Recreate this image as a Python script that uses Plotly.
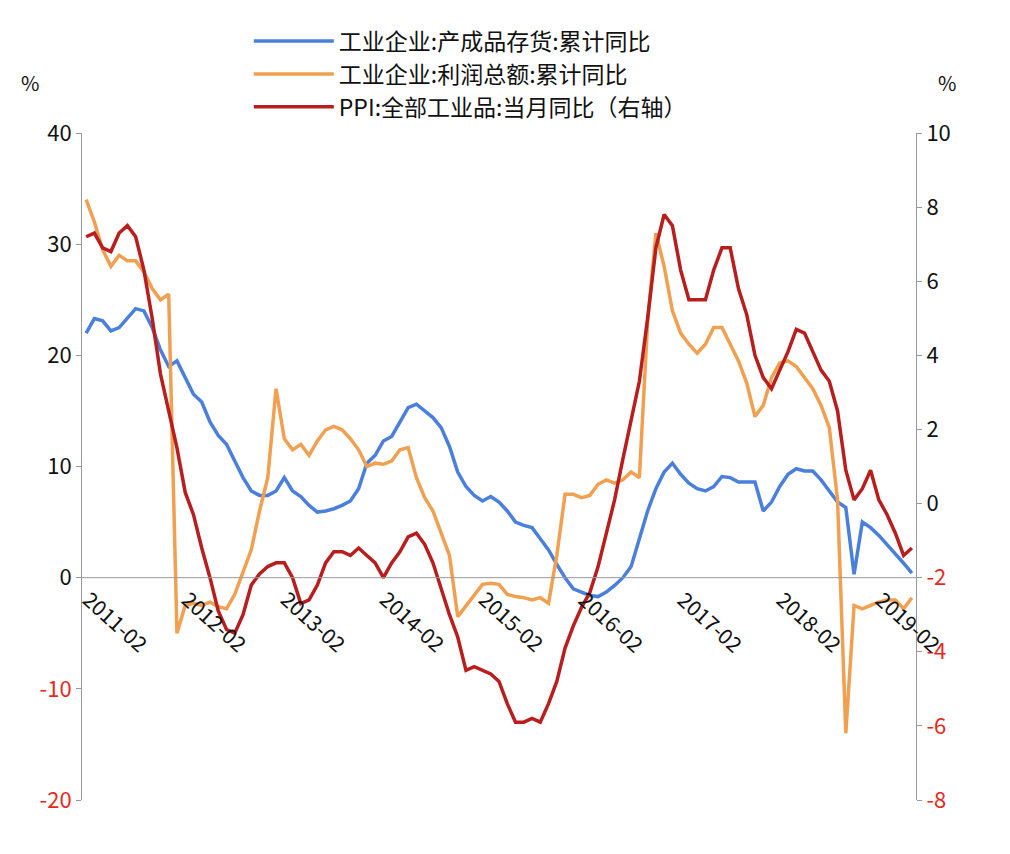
import plotly.graph_objects as go
import pandas as pd

# monthly, 2011-02 .. 2019-06
months = pd.date_range("2011-02-01", periods=101, freq="MS").strftime("%Y-%m").tolist()

inventory = [22, 23.3, 23.1, 22.2, 22.5, 23.3, 24.2, 24, 22.5, 20.5, 19,
             19.5, 18, 16.5, 15.8, 14, 12.8, 12, 10.5, 9, 7.8, 7.4, 7.4,
             7.8, 9, 7.8, 7.3, 6.5, 5.9, 6, 6.2, 6.5, 6.9, 8, 10.3,
             11, 12.3, 12.7, 14, 15.3, 15.6, 15, 14.4, 13.5, 11.8, 9.5, 8.2,
             7.4, 6.9, 7.3, 6.8, 6, 5, 4.7, 4.5, 3.5, 2.5, 1.2, 0,
             -1, -1.3, -1.6, -1.7, -1.3, -0.7, 0, 1, 3.5, 6, 8, 9.5,
             10.3, 9.3, 8.5, 8, 7.8, 8.2, 9.1, 9, 8.6, 8.6, 8.6, 6,
             6.8, 8.2, 9.3, 9.8, 9.6, 9.6, 8.8, 7.8, 6.8, 6.3, 0.3, 5,
             4.5, 3.8, 3, 2.2, 1.3, 0.4]

profit = [34, 32, 29.5, 28, 29, 28.5, 28.5, 27.5, 26, 25, 25.5,
          -5, -2.5, -2.3, -2.5, -2.2, -2.6, -2.8, -1.5, 0.5, 2.5, 6, 9,
          17, 12.5, 11.5, 12, 11, 12.3, 13.3, 13.6, 13.3, 12.5, 11.5, 10,
          10.3, 10.2, 10.5, 11.5, 11.7, 9, 7.2, 6, 4, 2, -3.5, -2.5,
          -1.5, -0.6, -0.5, -0.6, -1.5, -1.7, -1.8, -2, -1.8, -2.3, 2, 7.5,
          7.5, 7.2, 7.4, 8.4, 8.8, 8.5, 8.8, 9.5, 9, 23, 31, 28,
          24, 22, 21, 20.2, 21, 22.5, 22.5, 21, 19.5, 17.5, 14.5, 15.5,
          18, 19.3, 19.5, 19, 18, 17, 15.5, 13.5, 7, -14, -2.5, -2.8,
          -2.5, -2.2, -2, -2, -2.8, -1.8]

ppi = [7.2, 7.3, 6.9, 6.8, 7.3, 7.5, 7.2, 6.3, 5, 3.5, 2.5,
       1.5, 0.3, -0.3, -1.2, -2, -2.9, -3.4, -3.5, -3, -2.2, -1.9, -1.7,
       -1.6, -1.6, -2, -2.7, -2.6, -2.2, -1.6, -1.3, -1.3, -1.4, -1.2, -1.4,
       -1.6, -2, -1.6, -1.3, -0.9, -0.8, -1.1, -1.6, -2.3, -3, -3.6, -4.5,
       -4.4, -4.5, -4.6, -4.8, -5.4, -5.9, -5.9, -5.8, -5.9, -5.4, -4.8, -3.9,
       -3.3, -2.8, -2.4, -1.7, -0.8, 0.1, 1.2, 2.3, 3.3, 5, 6.9, 7.8,
       7.5, 6.3, 5.5, 5.5, 5.5, 6.3, 6.9, 6.9, 5.8, 5.1, 4, 3.4,
       3.1, 3.6, 4.1, 4.7, 4.6, 4.1, 3.6, 3.3, 2.5, 0.9, 0.1, 0.4,
       0.9, 0.1, -0.3, -0.8, -1.4, -1.2]

left_ticks = [-20, -10, 0, 10, 20, 30, 40]
right_ticks = [-8, -6, -4, -2, 0, 2, 4, 6, 8, 10]
x_labels = [m for m in months if m.endswith("-02")]

FONT = "Noto Sans CJK SC"
RED = "#e8291c"

def tick_text(vals):
    return [f"<span style='color:{RED}'>{v}</span>" if v < 0 else str(v) for v in vals]

fig = go.Figure()
fig.add_trace(go.Scatter(x=months, y=inventory, name="工业企业:产成品存货:累计同比",
                         line=dict(color="#4a7fdc", width=3.5)))
fig.add_trace(go.Scatter(x=months, y=profit, name="工业企业:利润总额:累计同比",
                         line=dict(color="#f0a050", width=3.5)))
fig.add_trace(go.Scatter(x=months, y=ppi, name="PPI:全部工业品:当月同比（右轴）",
                         line=dict(color="#b81e1e", width=3.5), yaxis="y2"))

# zero line acting as x axis, with rotated labels hanging from it
fig.add_shape(type="line", xref="paper", x0=0, x1=1, yref="y", y0=0, y1=0,
              line=dict(color="#999999", width=1))
for lab in x_labels:
    fig.add_annotation(x=lab, y=0, xref="x", yref="y", text=lab, showarrow=False,
                       textangle=42, xanchor="left", yanchor="top", xshift=-12, yshift=-4,
                       font=dict(family=FONT, size=21, color="#111111"))

fig.add_annotation(x=-0.075, y=1.1, xref="paper", yref="paper", text="%", showarrow=False,
                   font=dict(family=FONT, size=20, color="#111111"))
fig.add_annotation(x=1.05, y=1.1, xref="paper", yref="paper", text="%", showarrow=False,
                   font=dict(family=FONT, size=20, color="#111111"))

fig.update_layout(
    width=1010, height=854,
    paper_bgcolor="white", plot_bgcolor="white",
    margin=dict(l=74, r=102, t=115, b=62),
    font=dict(family=FONT, size=22, color="#111111"),
    showlegend=True,
    legend=dict(x=0.2, y=1.17, xanchor="left", yanchor="top",
                font=dict(family=FONT, size=23), bgcolor="rgba(0,0,0,0)",
                itemwidth=80, tracegroupgap=8),
    xaxis=dict(type="category", range=[-0.5, 100.5], showticklabels=False, showgrid=False,
               zeroline=False, showline=False, ticks=""),
    yaxis=dict(range=[-20, 40], tickvals=left_ticks, ticktext=tick_text(left_ticks),
               showgrid=False, zeroline=False, showline=True, linecolor="#999999",
               ticks="outside", ticklen=5, tickcolor="#999999"),
    yaxis2=dict(range=[-8, 10], tickvals=right_ticks, ticktext=tick_text(right_ticks),
                overlaying="y", side="right", showgrid=False, zeroline=False,
                showline=True, linecolor="#999999", ticks="outside", ticklen=5,
                tickcolor="#999999"),
)

fig.write_html("out.html")
